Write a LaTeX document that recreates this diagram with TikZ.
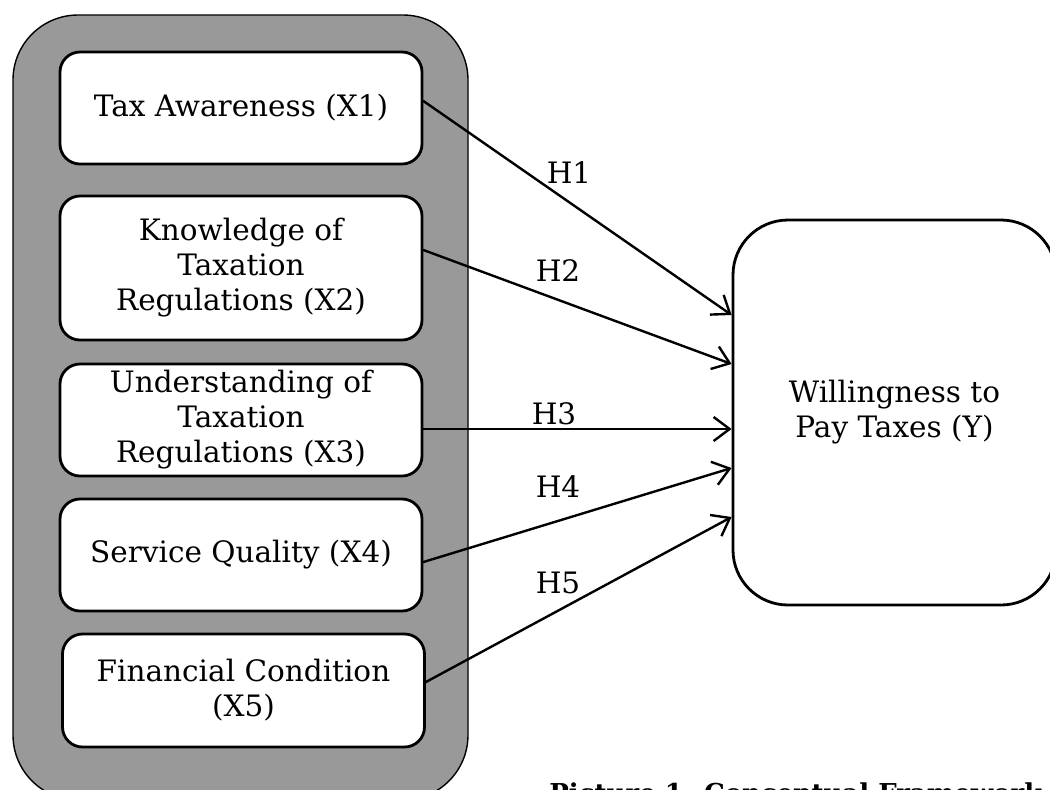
\documentclass[tikz,border=0pt]{standalone}
\usepackage{fontspec}
\setmainfont{DejaVu Serif}
\usetikzlibrary{arrows.meta}
\definecolor{grpfill}{gray}{0.6}
\tikzset{
	varbox/.style={draw=black,fill=white,line width=1.4pt,rounded corners=10pt,
		minimum width=181pt,minimum height=56pt,align=center,inner sep=2pt,
		font=\fontsize{14.75}{17.5}\selectfont},
	hyp/.style={draw=black,line width=1.2pt,-{Straight Barb[length=8pt,width=12pt,line width=1.2pt]}},
	hlabel/.style={font=\fontsize{14.75}{17.5}\selectfont,inner sep=0pt}
}
\begin{document}
\begin{tikzpicture}[x=0.5pt,y=-0.5pt,line cap=round,line join=round]
	\useasboundingbox (0,0) rectangle (1050,789);
	\clip (0,0) rectangle (1050,789);
	
	% kotak luar
	\node[draw=black,fill=grpfill,line width=0.7pt,rounded corners=32.5pt,
		minimum width=227.5pt,minimum height=392.5pt] (grp) at (240.5,407.5) {};
	
	% variabel bebas
	\node[varbox] (x1) at (241,108) {Tax Awareness (X1)};
	\node[varbox,minimum height=72pt] (x2) at (241,268) {Knowledge of\\Taxation\\Regulations (X2)};
	\node[varbox] (x3) at (241,420) {Understanding of\\Taxation\\Regulations (X3)};
	\node[varbox] (x4) at (241,555) {Service Quality (X4)};
	\node[varbox,minimum height=56.5pt] (x5) at (243.5,690.5) {Financial Condition\\(X5)};
	
	% variabel terikat
	\node[varbox,rounded corners=27.5pt,minimum width=161.5pt,minimum height=192.5pt]
		(y) at (894.5,412.5) {Willingness to\\Pay Taxes (Y)};
	
	% panah hipotesis
	\draw[hyp] ([yshift=3.5pt]x1.east) -- ([yshift=48.75pt]y.west);
	\draw[hyp] ([yshift=9pt]x2.east) -- ([yshift=24.25pt]y.west);
	\draw[hyp] ([yshift=-4.5pt]x3.east) -- ([yshift=-8.25pt]y.west);
	\draw[hyp] ([yshift=-3.5pt]x4.east) -- ([yshift=-27.75pt]y.west);
	\draw[hyp] ([yshift=4.25pt]x5.east) -- ([yshift=-52.25pt]y.west);
	
	\node[hlabel] (h1) at (569,173) {H1};
	\node[hlabel] (h2) at (558,271) {H2};
	\node[hlabel] (h3) at (554,414) {H3};
	\node[hlabel] (h4) at (558,487) {H4};
	\node[hlabel] (h5) at (558,583) {H5};
	
	% judul gambar
	\node[anchor=base west,inner sep=0pt,font=\fontsize{13}{16}\bfseries] (cap) at (549,802) {Picture 1. Conceptual Framework};
\end{tikzpicture}
\end{document}
